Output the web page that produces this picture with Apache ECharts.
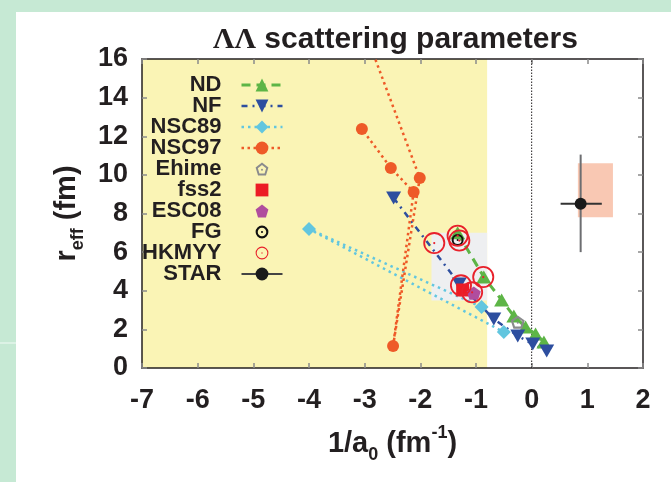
<!DOCTYPE html>
<html><head><meta charset="utf-8">
<script src="https://cdn.jsdelivr.net/npm/echarts@6/dist/echarts.min.js"></script>
<style>
html,body{margin:0;padding:0;background:#c6e9d4;overflow:hidden;}
#bg{position:absolute;left:16px;top:12px;width:655px;height:470px;background:#fff;}
#stripe{position:absolute;left:0;top:342px;width:16px;height:2px;background:#dcf2e5;}
#chart{position:absolute;left:0;top:0;width:671px;height:482px;}
</style></head><body>
<div id="bg"></div><div id="stripe"></div><div id="chart"></div>
<script>
// ---- data ----
const ND = [[-1.33,7.0],[-0.86,4.71],[-0.54,3.52],[-0.32,2.69],[-0.11,2.12],[0.07,1.76],[0.22,1.35]];
const NF = [[-2.48,8.8],[-1.3,4.35],[-0.68,2.54],[-0.25,1.66],[0.02,1.24],[0.27,0.88]];
const NSC89 = [[-0.9,3.16],[-4.0,7.2],[-0.5,1.86]];
const NSC97 = [[-3.07,18.0],[-2.01,9.84],[-2.49,1.14],[-2.12,9.11],[-2.53,10.36],[-3.05,12.38]];
const EHIME = [[-0.25,2.38]];
const FSS2 = [[-1.24,4.04]];
const ESC08 = [[-1.04,3.88]];
const FG = [[-1.33,6.63]];
const HKMYY = [[-1.75,6.47],[-1.33,6.85],[-1.3,6.6],[-0.87,4.71],[-1.27,4.28],[-1.07,3.92]];
const STAR = [[0.88,8.5]];
const STAR_ERR = [[0.88,8.5,0.52,1.26,6.0,11.05]]; // x, y, xLow, xHigh, yLow, yHigh
const REGIONS = [[-7,0,-0.8,16],[-1.8,3.5,-0.8,7]];   // x1,y1,x2,y2
const STAR_BAND = [[0.83,7.8,1.46,10.6]];
const ZERO_LINE = [[0,0,0,16]];
const LEGEND_NAMES = ['ND','NF','NSC89','NSC97','Ehime','fss2','ESC08','FG','HKMYY','STAR'];

// ---- styles ----
const TXT = '#231f20';
const FONT = 'Liberation Sans';
const REGION_COLORS = ['#faf4b5', '#eeeff1'];

function ring(t, d) {
  const r = 12 - t, a = 12 - r, b = 12 + r;
  return 'path://M12,0A12,12 0 0,1 24,12A12,12 0 0,1 12,24A12,12 0 0,1 0,12A12,12 0 0,1 12,0Z' +
    'M12,' + a + 'A' + r + ',' + r + ' 0 0,0 ' + a + ',12A' + r + ',' + r + ' 0 0,0 12,' + b +
    'A' + r + ',' + r + ' 0 0,0 ' + b + ',12A' + r + ',' + r + ' 0 0,0 12,' + a + 'Z' +
    'M12,' + (12 - d) + 'A' + d + ',' + d + ' 0 0,1 ' + (12 + d) + ',12A' + d + ',' + d + ' 0 0,1 12,' + (12 + d) +
    'A' + d + ',' + d + ' 0 0,1 ' + (12 - d) + ',12A' + d + ',' + d + ' 0 0,1 12,' + (12 - d) + 'Z';
}
function pentPts(R) {
  const p = [];
  for (let i = 0; i < 5; i++) {
    const ang = (-90 + 72 * i) * Math.PI / 180;
    p.push([(12 + R * Math.cos(ang)).toFixed(2), (12 + R * Math.sin(ang)).toFixed(2)]);
  }
  return p;
}
const PO = pentPts(12), PI_ = pentPts(7.8);
const PENT = 'path://M' + PO.map(q => q.join(',')).join('L') + 'Z';
const PENT_OPEN = PENT + 'M' + [PI_[0], PI_[4], PI_[3], PI_[2], PI_[1]].map(q => q.join(',')).join('L') + 'Z' +
  'M12,10.3A1.7,1.7 0 0,1 13.7,12A1.7,1.7 0 0,1 12,13.7A1.7,1.7 0 0,1 10.3,12A1.7,1.7 0 0,1 12,10.3Z';
const TRI_UP = 'path://M10,0L20,17.3L0,17.3Z';
const TRI_DOWN = 'path://M0,0L20,0L10,17.3Z';

function rectItem(colors) {
  return function (params, api) {
    const p1 = api.coord([api.value(0), api.value(1)]);
    const p2 = api.coord([api.value(2), api.value(3)]);
    return {
      type: 'rect',
      shape: { x: Math.min(p1[0], p2[0]), y: Math.min(p1[1], p2[1]), width: Math.abs(p2[0] - p1[0]), height: Math.abs(p2[1] - p1[1]) },
      style: { fill: colors[params.dataIndex % colors.length] }
    };
  };
}
function lineSer(name, data, color, symbol, size, lineStyle, extra) {
  return Object.assign({
    type: 'line', name: name, data: data, symbol: symbol, symbolSize: size, symbolKeepAspect: true,
    itemStyle: { color: color }, lineStyle: lineStyle, silent: true, z: 3
  }, extra || {});
}

const chart = echarts.init(document.getElementById('chart'), null, { renderer: 'canvas' });
const axisCommon = {
  type: 'value', splitLine: { show: false },
  axisLine: { show: true, onZero: false, lineStyle: { color: TXT, width: 1.5 } },
  axisTick: { show: true, inside: true, length: 5, lineStyle: { color: '#8a8a8a', width: 1.5 } }
};
const labelStyle = { fontSize: 27, fontWeight: 'bold', fontFamily: FONT, color: TXT };
const nameRich = {
  m: { fontSize: 29, fontWeight: 'bold', fontFamily: FONT, color: TXT, lineHeight: 40, verticalAlign: 'middle' },
  sub: { fontSize: 18, fontWeight: 'bold', fontFamily: FONT, color: TXT, lineHeight: 18, verticalAlign: 'bottom' },
  sup: { fontSize: 18, fontWeight: 'bold', fontFamily: FONT, color: TXT, lineHeight: 18, verticalAlign: 'top' }
};

chart.setOption({
  animation: false,
  title: {
    text: '{g|ΛΛ}{t| scattering parameters}', left: 208, top: 20,
    textStyle: { rich: {
      g: { fontFamily: 'Liberation Serif', fontSize: 30, color: TXT },
      t: { fontFamily: FONT, fontWeight: 'bold', fontSize: 30, color: TXT }
    } }
  },
  grid: { left: 142, right: 28, top: 59, bottom: 114, containLabel: false },
  xAxis: [
    Object.assign({}, axisCommon, { min: -7, max: 2, interval: 1, position: 'bottom',
      axisLabel: Object.assign({ margin: 19 }, labelStyle),
      name: '{m|1/a}{sub|0}{m| (fm}{sup|-1}{m|)}', nameLocation: 'middle', nameGap: 56,
      nameTextStyle: { rich: nameRich } }),
    Object.assign({}, axisCommon, { min: -7, max: 2, interval: 1, position: 'top', axisLabel: { show: false } })
  ],
  yAxis: [
    Object.assign({}, axisCommon, { min: 0, max: 16, interval: 2, position: 'left',
      axisLabel: Object.assign({ margin: 14 }, labelStyle),
      name: '{m|r}{sub|eff}{m| (fm)}', nameLocation: 'middle', nameGap: 45,
      nameTextStyle: { rich: nameRich } }),
    Object.assign({}, axisCommon, { min: 0, max: 16, interval: 2, position: 'right', axisLabel: { show: false } })
  ],
  legend: {
    orient: 'vertical', right: 387, top: 74, padding: 0, itemGap: -1, itemWidth: 41, itemHeight: 16,
    align: 'right', selectedMode: false, data: LEGEND_NAMES,
    textStyle: { fontFamily: FONT, fontWeight: 'bold', fontSize: 22, color: TXT, lineHeight: 21, padding: [0, 15, 0, 0] },
    lineStyle: { width: 'inherit' }
  },
  series: [
    { type: 'custom', name: 'regions', data: REGIONS, z: -1, silent: true,
      encode: { x: [0, 2], y: [1, 3] }, renderItem: rectItem(REGION_COLORS) },
    { type: 'custom', name: 'zero', data: ZERO_LINE, z: 1, silent: true,
      encode: { x: [0, 2], y: [1, 3] },
      renderItem: function (params, api) {
        const p1 = api.coord([api.value(0), api.value(1)]);
        const p2 = api.coord([api.value(2), api.value(3)]);
        return { type: 'line', shape: { x1: p1[0], y1: p1[1], x2: p2[0], y2: p2[1] },
          style: { stroke: TXT, lineWidth: 1, lineDash: [1.5, 1.5] } };
      } },
    { type: 'custom', name: 'starBand', data: STAR_BAND, z: 1, silent: true,
      encode: { x: [0, 2], y: [1, 3] }, renderItem: rectItem(['#f9c8b3']) },
    lineSer('ND', ND, '#5db546', TRI_UP, 15, { color: '#5db546', width: 3, type: [9, 6] }),
    lineSer('NF', NF, '#2d4e9f', TRI_DOWN, 15, { color: '#2d4e9f', width: 2.5, type: [6, 5, 2, 5] }),
    lineSer('NSC89', NSC89, '#62c6df', 'diamond', 14, { color: '#62c6df', width: 2.5, type: [2.5, 4] }),
    lineSer('NSC97', NSC97.map((p, i) => i === 0 ? { value: p, symbol: 'none' } : p), '#ee5a28', 'circle', 12,
      { color: '#ee5a28', width: 2.5, type: [2.5, 3.5] }),
    lineSer('Ehime', EHIME, '#8a8b8d', PENT_OPEN, 14, { width: 0 }),
    lineSer('fss2', FSS2, '#ec1c24', 'rect', 13, { width: 0 }),
    lineSer('ESC08', ESC08, '#b04d9e', PENT, 14, { width: 0 }),
    lineSer('FG', FG, '#111111', ring(4, 2), 12, { width: 0 }),
    lineSer('HKMYY', HKMYY, '#e8212b', ring(2, 1.2), 22, { width: 0 }),
    { type: 'custom', name: 'STAR_err', data: STAR_ERR, z: 3, silent: true,
      encode: { x: [0, 2, 3], y: [1, 4, 5] },
      renderItem: function (params, api) {
        const xl = api.coord([api.value(2), api.value(1)]);
        const xh = api.coord([api.value(3), api.value(1)]);
        const yl = api.coord([api.value(0), api.value(4)]);
        const yh = api.coord([api.value(0), api.value(5)]);
        return { type: 'group', children: [
          { type: 'line', shape: { x1: yl[0], y1: yl[1], x2: yh[0], y2: yh[1] }, style: { stroke: '#6d6e71', lineWidth: 2 } },
          { type: 'line', shape: { x1: xl[0], y1: xl[1], x2: xh[0], y2: xh[1] }, style: { stroke: '#333', lineWidth: 2 } }
        ] };
      } },
    lineSer('STAR', STAR, '#1a1a1a', 'circle', 12, { color: '#444', width: 2 })
  ]
});
</script></body></html>
